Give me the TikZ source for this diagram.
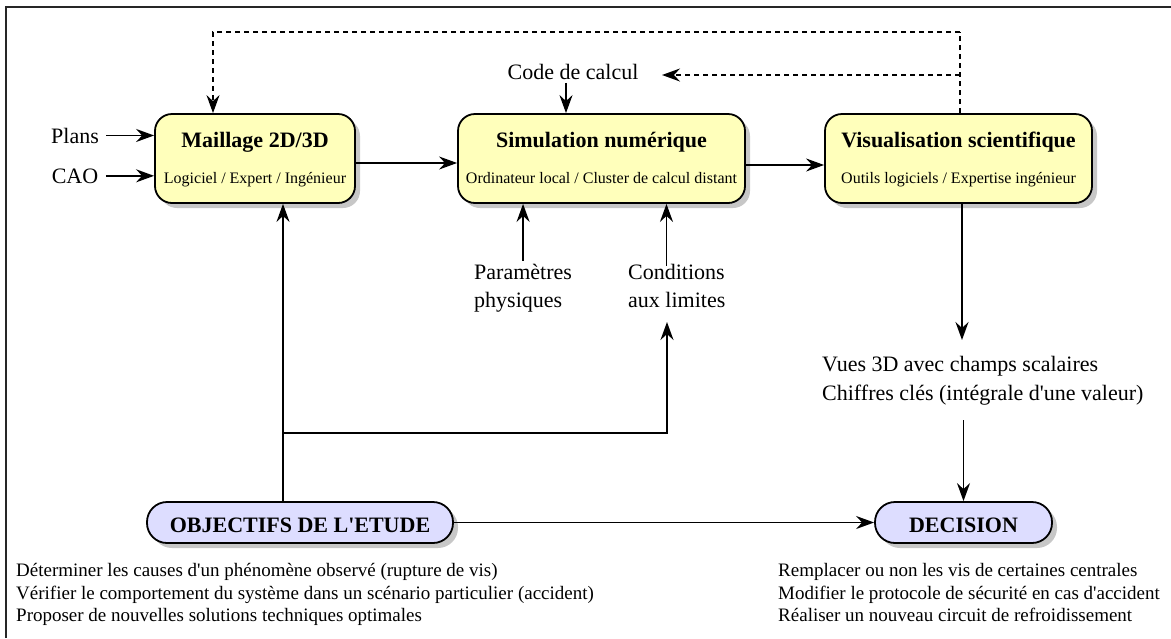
\documentclass[tikz,border=0pt]{standalone}
\usepackage{fontspec}
\setmainfont{Liberation Serif}
\usetikzlibrary{arrows.meta,shadows}
\definecolor{boxyellow}{RGB}{255,255,187}
\definecolor{boxblue}{RGB}{221,221,255}
\begin{document}
\begin{tikzpicture}[x=1pt,y=-1pt,
  stagebox/.style={draw, line width=1.8pt, rounded corners=17pt, fill=boxyellow,
    minimum height=89pt, inner sep=0pt,
    drop shadow={shadow xshift=5pt, shadow yshift=-5pt, fill=black!22, opacity=1}},
  goalbox/.style={draw, line width=1.8pt, rounded corners=20pt, fill=boxblue,
    minimum height=41pt, inner sep=0pt,
    drop shadow={shadow xshift=5pt, shadow yshift=-5pt, fill=black!22, opacity=1}},
  ttl/.style={font=\fontsize{22}{26}\selectfont\bfseries, anchor=base},
  sub/.style={font=\fontsize{16}{19}\selectfont, anchor=base},
  lbl/.style={font=\fontsize{22}{26}\selectfont},
  note/.style={font=\fontsize{19}{22}\selectfont, anchor=base west, inner sep=0pt},
  arr/.style={-{Stealth[length=18pt,width=13pt,inset=6pt]}, line width=1.8pt},
  dsh/.style={line width=1.5pt, dash pattern=on 5pt off 4pt},
  frame/.style={line width=2.2pt, draw=black!85}
]
\useasboundingbox (0,0) rectangle (1171,638);
\draw[frame] (6,638) -- (6,7) -- (1171,7);

% main boxes
\node[stagebox, minimum width=200pt] (mesh) at (255,158.5) {};
\node[stagebox, minimum width=287pt] (sim) at (601.5,158.5) {};
\node[stagebox, minimum width=267pt] (vis) at (958.5,158.5) {};
\node[ttl] (meshT) at (255,147) {Maillage 2D/3D};
\node[sub] (meshS) at (255,183) {Logiciel / Expert / Ingénieur};
\node[ttl] (simT) at (601.5,147) {Simulation numérique};
\node[sub] (simS) at (601.5,183) {Ordinateur local / Cluster de calcul distant};
\node[ttl] (visT) at (958.5,147) {Visualisation scientifique};
\node[sub] (visS) at (958.5,183) {Outils logiciels / Expertise ingénieur};

% goal boxes
\node[goalbox, minimum width=306pt] (obj) at (300,522.5) {};
\node[ttl] (objT) at (300,532) {OBJECTIFS DE L\textquotesingle ETUDE};
\node[goalbox, minimum width=177pt] (dec) at (963.5,522.5) {};
\node[ttl] (decT) at (963.5,532) {DECISION};

% inputs
\node[lbl, anchor=base] (plans) at (75,143) {Plans};
\node[lbl, anchor=base] (cao) at (75,183) {CAO};
\node[lbl, anchor=base] (code) at (573,79) {Code de calcul};
\node[lbl, anchor=base west, inner sep=0pt] (param1) at (474,279) {Paramètres};
\node[lbl, anchor=base west, inner sep=0pt] (param2) at (474,307) {physiques};
\node[lbl, anchor=base west, inner sep=0pt] (cond1) at (628,279) {Conditions};
\node[lbl, anchor=base west, inner sep=0pt] (cond2) at (628,307) {aux limites};
\node[lbl, anchor=base west, inner sep=0pt] (vues1) at (822,371) {Vues 3D avec champs scalaires};
\node[lbl, anchor=base west, inner sep=0pt] (vues2) at (822,400) {Chiffres clés (intégrale d\textquotesingle une valeur)};

% notes
\node[note] (o1) at (16,576) {Déterminer les causes d\textquotesingle un phénomène observé (rupture de vis)};
\node[note] (o2) at (16,599) {Vérifier le comportement du système dans un scénario particulier (accident)};
\node[note] (o3) at (16,621) {Proposer de nouvelles solutions techniques optimales};
\node[note] (d1) at (778,576) {Remplacer ou non les vis de certaines centrales};
\node[note] (d2) at (778,599) {Modifier le protocole de sécurité en cas d\textquotesingle accident};
\node[note] (d3) at (778,621) {Réaliser un nouveau circuit de refroidissement};

% coordinates
\coordinate (fbR) at (960,32);
\coordinate (fbL) at (213,32);
\coordinate (fbB) at (960,75);
\coordinate (codeIn) at (662,75);
\coordinate (jx) at (283,433);
\coordinate (condIn) at (667,322);
\coordinate (visOut) at (962,340);
\coordinate (decIn) at (963.5,420);

% connectors
\draw[arr, shorten <=4pt] (plans.east) -- (plans.east -| mesh.west);
\draw[arr, shorten <=4pt] (cao.east) -- (cao.east -| mesh.west);
\draw[arr] ([yshift=-4.5pt]mesh.east) -- ([yshift=-4.5pt]sim.west);
\draw[arr] ([yshift=-6.5pt]sim.east) -- ([yshift=-6.5pt]vis.east -| vis.west);
\draw[arr] (code.south -| 566,0) -- (sim.north -| 566,0);
\draw[arr] ([yshift=3pt]param1.north) -- (param1.north |- sim.south);
\draw[arr] ([xshift=-10pt,yshift=-2pt]cond1.north) -- ([xshift=-10pt]cond1.north |- sim.south);
\draw[dsh] (vis.north -| fbR) -- (fbR);
\draw[dsh, arr, line width=1.5pt] (fbR) -- (fbL) -- (fbL |- mesh.north);
\draw[dsh, arr, line width=1.5pt] (fbB) -- (codeIn);
\draw[arr] (obj.north -| jx) -- (mesh.south -| jx);
\draw[arr] (jx) -- (jx -| condIn) -- (condIn);
\draw[arr] (vis.south -| visOut) -- (visOut);
\draw[arr] (decIn) -- (dec.north);
\draw[arr] (obj.east) -- (dec.west);
\end{tikzpicture}
\end{document}
